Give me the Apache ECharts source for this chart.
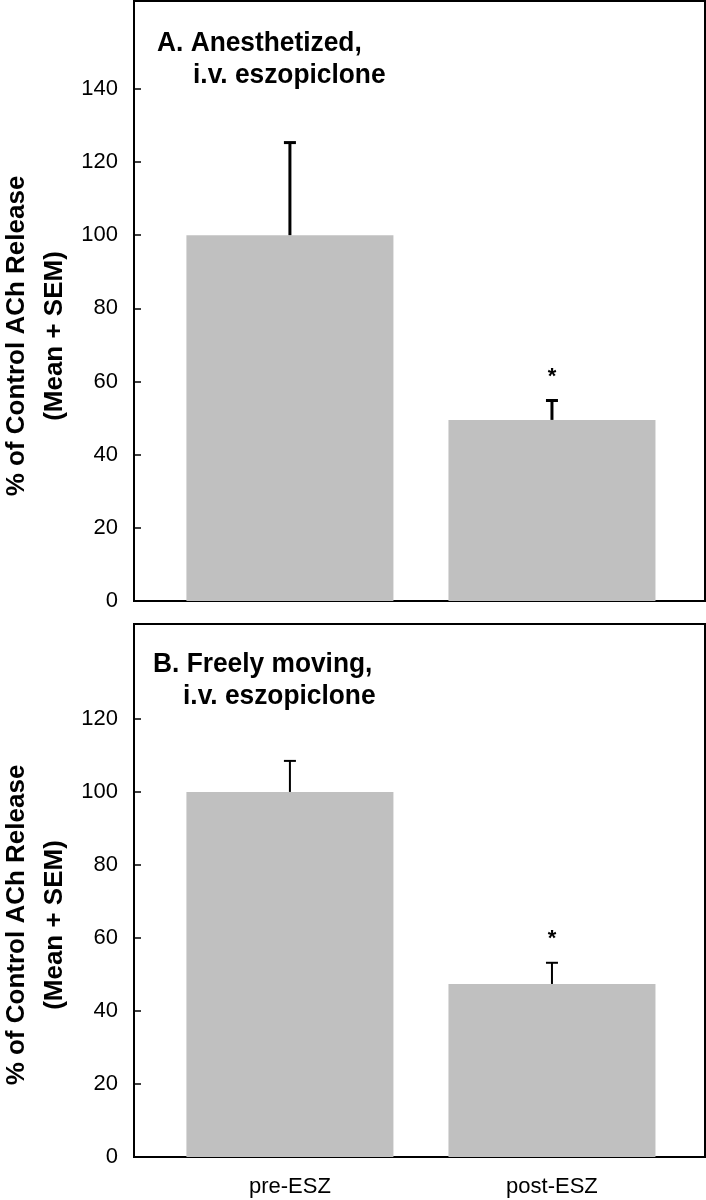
<!DOCTYPE html>
<html><head><meta charset="utf-8">
<script src="https://cdn.jsdelivr.net/npm/echarts@6/dist/echarts.min.js"></script>
<style>html,body{margin:0;padding:0;background:#fff}#c{width:706px;height:1200px}</style>
</head><body><div id="c"></div>
<script>
const categories = ['pre-ESZ', 'post-ESZ'];
const meanA = [100, 49.5];
const semA = [25.3, 5.3];
const sigA = [0, 1];
const meanB = [100, 47.4];
const semB = [8.5, 5.8];
const sigB = [0, 1];
const ticksA = [0, 20, 40, 60, 80, 100, 120, 140];
const ticksB = [0, 20, 40, 60, 80, 100, 120];
const titleA = ['A. Anesthetized,', 'i.v. eszopiclone'];
const titleB = ['B. Freely moving,', 'i.v. eszopiclone'];
const yName = ['% of Control ACh Release', '(Mean + SEM)'];

const FONT = '"Liberation Sans", Arial, sans-serif';
const BAR_W = 0.79;

function makeRender(lw, starGap) {
  return function (params, api) {
    const x = api.value(0), m = api.value(1), s = api.value(2), sig = api.value(3);
    const base = api.coord([x, 0]);
    const top = api.coord([x, m]);
    const et = api.coord([x, m + s]);
    const w = api.size([BAR_W, 0])[0];
    const ch = [
      {type: 'rect', shape: {x: base[0] - w / 2, y: top[1], width: w, height: base[1] - top[1]},
       style: {fill: '#c0c0c0'}},
      {type: 'line', shape: {x1: top[0], y1: top[1], x2: et[0], y2: et[1]},
       style: {stroke: '#000', lineWidth: lw}},
      {type: 'line', shape: {x1: et[0] - 6, y1: et[1], x2: et[0] + 6, y2: et[1]},
       style: {stroke: '#000', lineWidth: lw}}
    ];
    if (sig) {
      ch.push({type: 'text', x: et[0], y: et[1] - starGap,
        style: {text: '*', fill: '#000', font: 'bold 22px ' + FONT, textAlign: 'center', textVerticalAlign: 'middle'}});
    }
    return {type: 'group', children: ch};
  };
}

function mkData(means, sems, sig) {
  return categories.map((c, i) => [i, means[i], sems[i], sig[i]]);
}

function xAxis(gi, showLabels) {
  return {
    type: 'value', gridIndex: gi, min: -0.595, max: 1.584,
    axisLine: {show: true, onZero: false, lineStyle: {color: '#000', width: 2}},
    axisTick: {show: false}, splitLine: {show: false},
    axisLabel: showLabels ? {show: true, customValues: [0, 1], formatter: v => categories[Math.round(v)] || '',
      color: '#000', fontSize: 22, fontFamily: FONT, margin: 19} : {show: false}
  };
}
function yAxis(gi, max, ticks) {
  return {
    type: 'value', gridIndex: gi, min: 0, max: max, interval: 20,
    axisLine: {show: true, onZero: false, lineStyle: {color: '#000', width: 2}},
    axisTick: {show: true, inside: true, length: 7, customValues: ticks, lineStyle: {color: '#000', width: 1.5}},
    axisLabel: {customValues: ticks, color: '#000', fontSize: 22, fontFamily: FONT, margin: 16},
    splitLine: {show: false}
  };
}

function yTitle(cy) {
  return {type: 'text', x: 36, y: cy, rotation: Math.PI / 2,
    style: {text: yName.join('\n'), fill: '#000', font: 'bold 26px ' + FONT, lineHeight: 38,
      textAlign: 'center', textVerticalAlign: 'middle'}};
}
function tText(x, y, t) {
  return {type: 'text', x: x, y: y, scaleX: 0.94,
    style: {text: t, fill: '#000', font: 'bold 28px ' + FONT, textAlign: 'left', textVerticalAlign: 'middle'}};
}

const chart = echarts.init(document.getElementById('c'), null, {renderer: 'canvas'});
chart.setOption({
  animation: false,
  grid: [
    {left: 134, right: 1, top: 1, bottom: 599, show: true, borderColor: '#000', borderWidth: 2, backgroundColor: 'transparent'},
    {left: 134, right: 1, top: 624, bottom: 43, show: true, borderColor: '#000', borderWidth: 2, backgroundColor: 'transparent'}
  ],
  xAxis: [xAxis(0, false), xAxis(1, true)],
  yAxis: [yAxis(0, 164, ticksA), yAxis(1, 146, ticksB)],
  series: [
    {type: 'custom', xAxisIndex: 0, yAxisIndex: 0, renderItem: makeRender(3, 24), data: mkData(meanA, semA, sigA), clip: false},
    {type: 'custom', xAxisIndex: 1, yAxisIndex: 1, renderItem: makeRender(2, 24), data: mkData(meanB, semB, sigB), clip: false}
  ],
  graphic: [
    yTitle(336), yTitle(925),
    tText(157, 43, titleA[0]), tText(193, 75, titleA[1]),
    tText(153, 664, titleB[0]), tText(183, 696, titleB[1])
  ]
});
</script></body></html>
